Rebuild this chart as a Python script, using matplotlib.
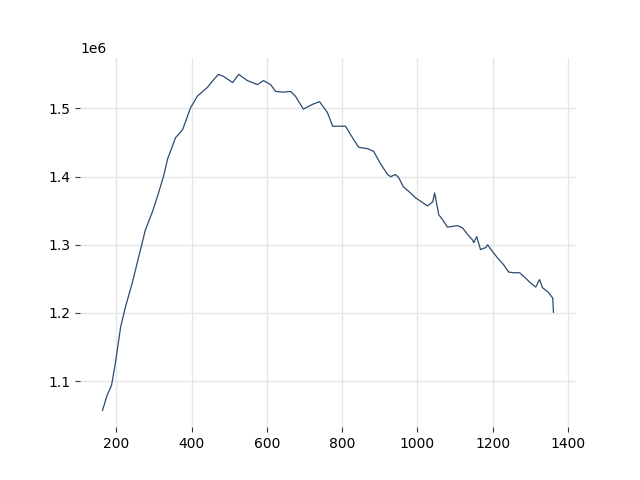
import numpy as np
import matplotlib
matplotlib.use("Agg")
import matplotlib.pyplot as plt

# values (x, y in units of 1e6)
x = [163, 175, 187, 197, 211, 224, 242, 259, 277, 296, 309, 325, 336, 357, 376,
     397, 415, 442, 455, 471, 485, 509, 525, 548, 575, 591, 610, 623, 644, 663,
     676, 697, 721, 740, 761, 775, 788, 809, 822, 844, 868, 884, 902, 921, 929,
     942, 950, 963, 982, 995, 1014, 1027, 1041, 1046, 1057, 1067, 1080, 1107, 1120, 1134,
     1147, 1150, 1158, 1168, 1182, 1187, 1200, 1213, 1229, 1243, 1256, 1272, 1288, 1301, 1315,
     1325, 1333, 1347, 1360, 1362]
y = [1.057, 1.079, 1.094, 1.126, 1.179, 1.209, 1.244, 1.282, 1.322, 1.349, 1.371, 1.400, 1.426, 1.457, 1.469,
     1.501, 1.518, 1.531, 1.540, 1.550, 1.547, 1.538, 1.550, 1.541, 1.535, 1.541, 1.535, 1.525, 1.524, 1.525,
     1.518, 1.499, 1.506, 1.510, 1.494, 1.474, 1.474, 1.474, 1.462, 1.443, 1.441, 1.437, 1.419, 1.403, 1.400,
     1.403, 1.399, 1.385, 1.376, 1.369, 1.362, 1.357, 1.363, 1.376, 1.344, 1.337, 1.326, 1.328, 1.325, 1.315,
     1.307, 1.303, 1.312, 1.293, 1.296, 1.300, 1.290, 1.281, 1.271, 1.260, 1.259, 1.259, 1.251, 1.244, 1.238,
     1.249, 1.237, 1.231, 1.222, 1.201]

fig, ax = plt.subplots(figsize=(6.4, 4.8), dpi=100)
ax.plot(x, np.array(y) * 1e6, color="#2c4a6e", lw=0.9)
for s in ax.spines.values():
    s.set_visible(False)
ax.grid(True, color="#e6e6e6", lw=1.0)
ax.set_axisbelow(True)
ax.tick_params(colors="#333333", labelcolor="black")
fig.savefig("out.png")
